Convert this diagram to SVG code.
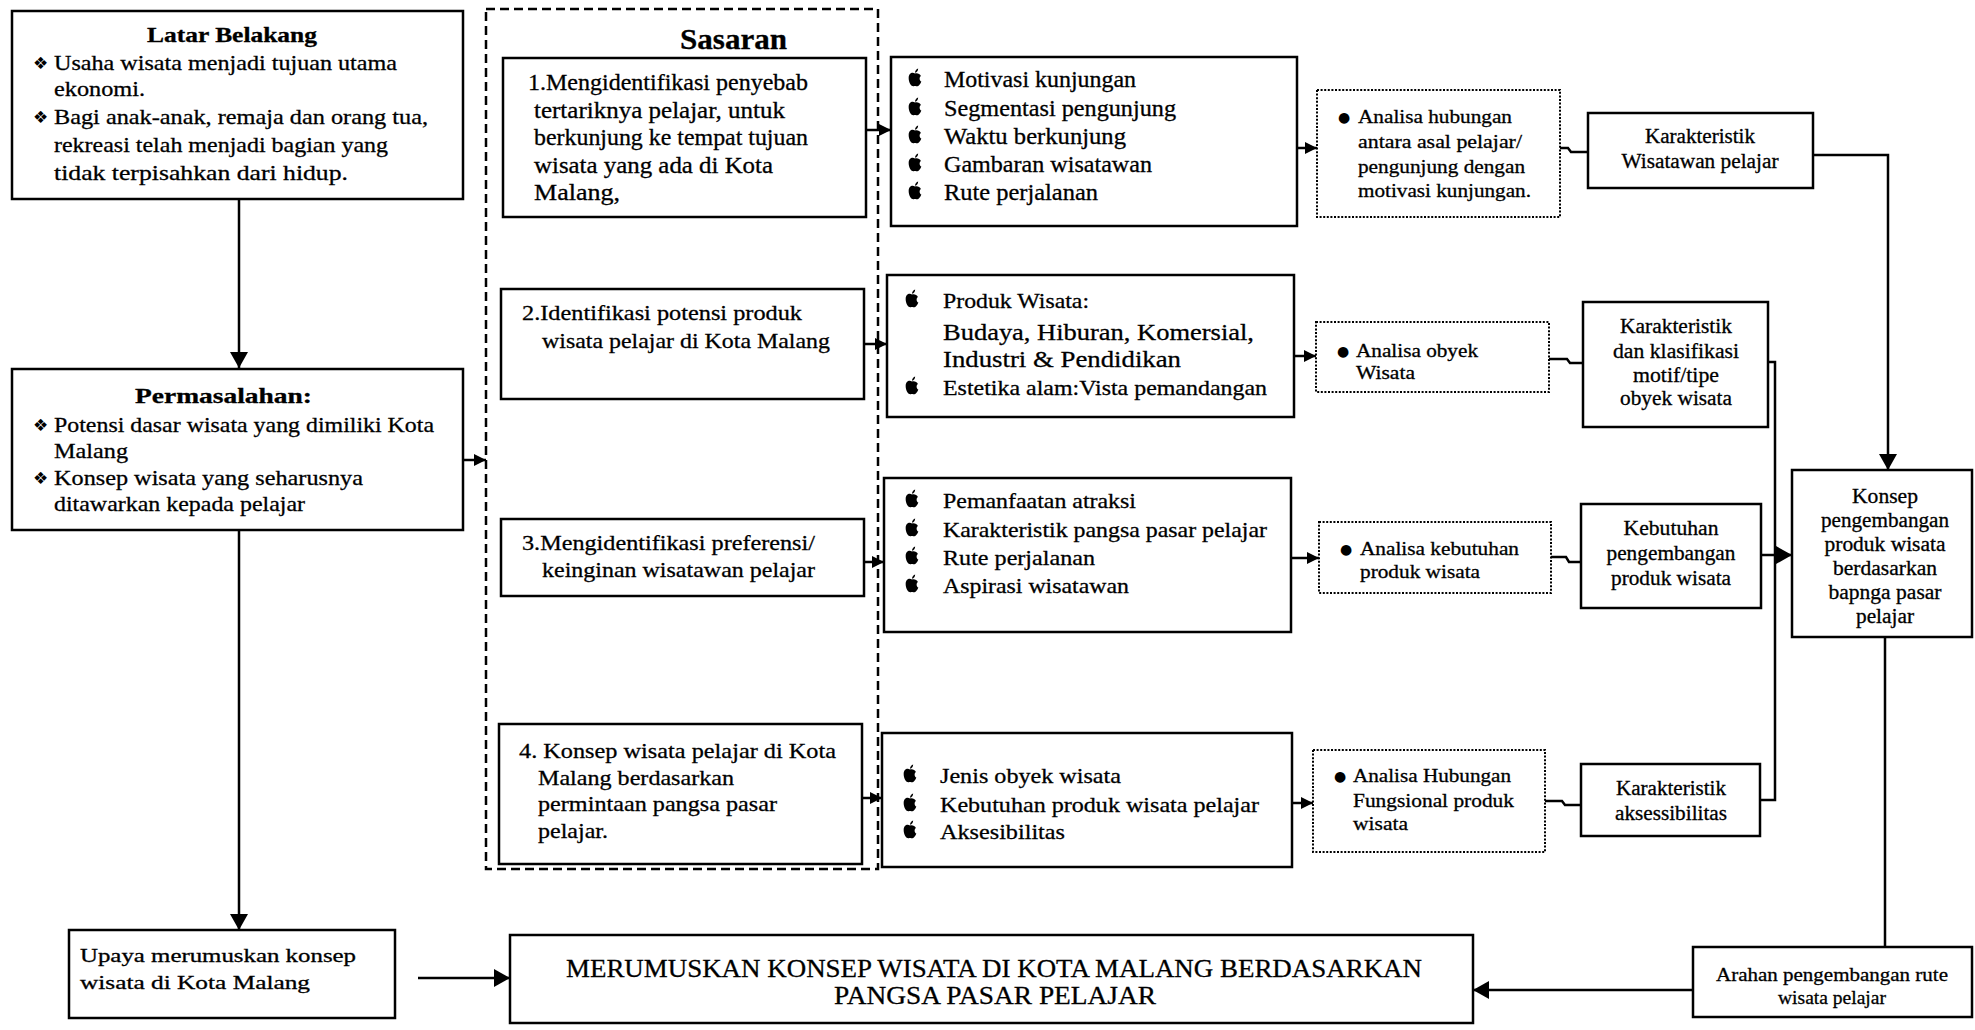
<svg xmlns="http://www.w3.org/2000/svg" xmlns:xlink="http://www.w3.org/1999/xlink" width="1975" height="1030" viewBox="0 0 1975 1030">
  <style>
    .box { fill: #fff; stroke: #000; stroke-width: 2.5; }
    .dot { fill: #fff; stroke: #000; stroke-width: 2; stroke-dasharray: 2 1.6; }
    .dash { fill: none; stroke: #000; stroke-width: 2.5; stroke-dasharray: 9 5; }
    .wire { fill: none; stroke: #000; stroke-width: 2.5; }
    .t { font-family: "Liberation Serif", "Times New Roman", serif; fill: #000; stroke: #000; stroke-width: 0.3; }
    .b { font-weight: bold; }
    .c { text-anchor: middle; }
    .sym { font-family: "DejaVu Sans", sans-serif; fill: #000; }
    .f18 { font-size: 18px; } .f19 { font-size: 19px; }
    .f20 { font-size: 20px; } .f21 { font-size: 21px; } .f22 { font-size: 22px; }
    .f23 { font-size: 23px; } .f24 { font-size: 24px; } .f26 { font-size: 26px; } .f30 { font-size: 30px; }
  </style>
  <defs>
    <marker id="ah" markerWidth="12" markerHeight="12" refX="12" refY="6" orient="auto" markerUnits="userSpaceOnUse">
      <path d="M0,0 L12,6 L0,12 Z" fill="#000"/>
    </marker>
    <marker id="ahL" markerWidth="18" markerHeight="18" refX="16" refY="9" orient="auto" markerUnits="userSpaceOnUse">
      <path d="M0,0 L16,9 L0,18 Z" fill="#000"/>
    </marker>
    <!-- apple-shaped list bullet -->
    <symbol id="apple" viewBox="0 0 20 24">
      <path d="M10,7 C7,5 2,6 2,13 C2,19 6,24 8.5,23 C9.5,22.6 10.5,22.6 11.5,23 C14,24 17,20 18,17 C15.5,16 15,11.5 17.5,10 C16,7.5 13,6 10,7 Z" fill="#000"/>
      <path d="M10,6 C10,3 12,1 14,0.5 C14,3 12.5,5.5 10,6 Z" fill="#000"/>
    </symbol>
  </defs>

  <rect width="1975" height="1030" fill="#fff"/>

  <!-- connectors -->
  <g id="connectors">
    <line class="wire" x1="239" y1="199" x2="239" y2="368" marker-end="url(#ahL)"/>
    <line class="wire" x1="463" y1="460" x2="486" y2="460" marker-end="url(#ah)"/>
    <line class="wire" x1="239" y1="530" x2="239" y2="930" marker-end="url(#ahL)"/>
    <line class="wire" x1="418" y1="978" x2="510" y2="978" marker-end="url(#ahL)"/>
    <line class="wire" x1="1693" y1="990" x2="1473" y2="990" marker-end="url(#ahL)"/>
    <line class="wire" x1="1885" y1="637" x2="1885" y2="947"/>

    <line class="wire" x1="866" y1="130" x2="891" y2="130" marker-end="url(#ah)"/>
    <line class="wire" x1="864" y1="344" x2="887" y2="344" marker-end="url(#ah)"/>
    <line class="wire" x1="864" y1="562" x2="884" y2="562" marker-end="url(#ah)"/>
    <line class="wire" x1="862" y1="798" x2="882" y2="798" marker-end="url(#ah)"/>

    <line class="wire" x1="1297" y1="148" x2="1317" y2="148" marker-end="url(#ah)"/>
    <line class="wire" x1="1294" y1="356" x2="1316" y2="356" marker-end="url(#ah)"/>
    <line class="wire" x1="1291" y1="558" x2="1319" y2="558" marker-end="url(#ah)"/>
    <line class="wire" x1="1292" y1="803" x2="1313" y2="803" marker-end="url(#ah)"/>

    <polyline class="wire" points="1560,148 1568,148 1571,152 1588,152"/>
    <polyline class="wire" points="1549,359 1567,359 1570,363 1583,363"/>
    <polyline class="wire" points="1551,557 1566,557 1569,562 1581,562"/>
    <polyline class="wire" points="1545,801 1562,801 1565,805 1581,805"/>

    <polyline class="wire" points="1813,155 1888,155 1888,470" marker-end="url(#ahL)"/>
    <polyline class="wire" points="1768,362 1775,362 1775,800 1760,800"/>
    <line class="wire" x1="1761" y1="555" x2="1792" y2="555" marker-end="url(#ahL)"/>
  </g>

  <!-- background and problem statement -->
  <g id="latar-belakang">
    <rect class="box" x="12" y="11" width="451" height="188"/>
    <text class="t b f21" x="147" y="42" textLength="170" lengthAdjust="spacingAndGlyphs">Latar Belakang</text>
    <text class="sym" x="33" y="69" font-size="17">❖</text>
    <text class="t f22" x="54" y="70" textLength="343" lengthAdjust="spacingAndGlyphs">Usaha wisata menjadi tujuan utama</text>
    <text class="t f22" x="54" y="96" textLength="91" lengthAdjust="spacingAndGlyphs">ekonomi.</text>
    <text class="sym" x="33" y="123" font-size="17">❖</text>
    <text class="t f22" x="54" y="124" textLength="374" lengthAdjust="spacingAndGlyphs">Bagi anak-anak, remaja dan orang tua,</text>
    <text class="t f22" x="54" y="152" textLength="334" lengthAdjust="spacingAndGlyphs">rekreasi telah menjadi bagian yang</text>
    <text class="t f22" x="54" y="180" textLength="294" lengthAdjust="spacingAndGlyphs">tidak terpisahkan dari hidup.</text>
  </g>

  <g id="permasalahan">
    <rect class="box" x="12" y="369" width="451" height="161"/>
    <text class="t b f21" x="135" y="403" textLength="177" lengthAdjust="spacingAndGlyphs">Permasalahan:</text>
    <text class="sym" x="33" y="431" font-size="17">❖</text>
    <text class="t f22" x="54" y="432" textLength="380" lengthAdjust="spacingAndGlyphs">Potensi dasar wisata yang dimiliki Kota</text>
    <text class="t f22" x="54" y="458" textLength="74" lengthAdjust="spacingAndGlyphs">Malang</text>
    <text class="sym" x="33" y="484" font-size="17">❖</text>
    <text class="t f22" x="54" y="485" textLength="309" lengthAdjust="spacingAndGlyphs">Konsep  wisata yang seharusnya</text>
    <text class="t f22" x="54" y="511" textLength="251" lengthAdjust="spacingAndGlyphs">ditawarkan kepada pelajar</text>
  </g>

  <g id="upaya">
    <rect class="box" x="69" y="930" width="326" height="88"/>
    <text class="t f19" x="80" y="962" textLength="276" lengthAdjust="spacingAndGlyphs">Upaya merumuskan konsep</text>
    <text class="t f19" x="80" y="989" textLength="230" lengthAdjust="spacingAndGlyphs">wisata di Kota Malang</text>
  </g>

  <!-- objectives column -->
  <g id="sasaran">
    <rect class="dash" x="486" y="9" width="392" height="860"/>
    <text class="t b f30" x="680" y="49" textLength="107" lengthAdjust="spacingAndGlyphs">Sasaran</text>
  </g>

  <g id="sasaran-1">
    <rect class="box" x="503" y="58" width="363" height="159"/>
    <text class="t f23" x="528" y="90" textLength="280" lengthAdjust="spacingAndGlyphs">1.Mengidentifikasi penyebab</text>
    <text class="t f23" x="534" y="117.5" textLength="251" lengthAdjust="spacingAndGlyphs">tertariknya pelajar, untuk</text>
    <text class="t f23" x="534" y="145" textLength="274" lengthAdjust="spacingAndGlyphs">berkunjung ke tempat tujuan</text>
    <text class="t f23" x="534" y="172.5" textLength="239" lengthAdjust="spacingAndGlyphs">wisata yang ada di Kota</text>
    <text class="t f23" x="534" y="200" textLength="86" lengthAdjust="spacingAndGlyphs">Malang,</text>
  </g>

  <g id="sasaran-2">
    <rect class="box" x="501" y="289" width="363" height="110"/>
    <text class="t f22" x="522" y="320" textLength="280" lengthAdjust="spacingAndGlyphs">2.Identifikasi potensi produk</text>
    <text class="t f22" x="542" y="348" textLength="288" lengthAdjust="spacingAndGlyphs">wisata pelajar di Kota Malang</text>
  </g>

  <g id="sasaran-3">
    <rect class="box" x="501" y="519" width="363" height="77"/>
    <text class="t f22" x="522" y="550" textLength="293" lengthAdjust="spacingAndGlyphs">3.Mengidentifikasi preferensi/</text>
    <text class="t f22" x="542" y="577" textLength="273" lengthAdjust="spacingAndGlyphs">keinginan wisatawan pelajar</text>
  </g>

  <g id="sasaran-4">
    <rect class="box" x="499" y="724" width="363" height="140"/>
    <text class="t f22" x="519" y="758" textLength="317" lengthAdjust="spacingAndGlyphs">4. Konsep wisata pelajar di Kota</text>
    <text class="t f22" x="538" y="785" textLength="196" lengthAdjust="spacingAndGlyphs">Malang berdasarkan</text>
    <text class="t f22" x="538" y="811" textLength="239" lengthAdjust="spacingAndGlyphs">permintaan pangsa pasar</text>
    <text class="t f22" x="538" y="838" textLength="70" lengthAdjust="spacingAndGlyphs">pelajar.</text>
  </g>

  <!-- aspect lists -->
  <g id="aspek-1">
    <rect class="box" x="891" y="57" width="406" height="169"/>
    <use href="#apple" x="907" y="68" width="16" height="19"/>
    <text class="t f23" x="944" y="87" textLength="192" lengthAdjust="spacingAndGlyphs">Motivasi  kunjungan</text>
    <use href="#apple" x="907" y="97" width="16" height="19"/>
    <text class="t f23" x="944" y="116" textLength="232" lengthAdjust="spacingAndGlyphs">Segmentasi pengunjung</text>
    <use href="#apple" x="907" y="125" width="16" height="19"/>
    <text class="t f23" x="944" y="144" textLength="182" lengthAdjust="spacingAndGlyphs">Waktu berkunjung</text>
    <use href="#apple" x="907" y="153" width="16" height="19"/>
    <text class="t f23" x="944" y="172" textLength="208" lengthAdjust="spacingAndGlyphs">Gambaran wisatawan</text>
    <use href="#apple" x="907" y="181" width="16" height="19"/>
    <text class="t f23" x="944" y="200" textLength="154" lengthAdjust="spacingAndGlyphs">Rute perjalanan</text>
  </g>

  <g id="aspek-2">
    <rect class="box" x="887" y="275" width="407" height="142"/>
    <use href="#apple" x="904" y="289" width="16" height="19"/>
    <text class="t f22" x="943" y="308" textLength="146" lengthAdjust="spacingAndGlyphs">Produk Wisata:</text>
    <text class="t f24" x="943" y="340" textLength="311" lengthAdjust="spacingAndGlyphs">Budaya, Hiburan, Komersial,</text>
    <text class="t f24" x="943" y="367" textLength="238" lengthAdjust="spacingAndGlyphs">Industri &amp; Pendidikan</text>
    <use href="#apple" x="904" y="376" width="16" height="19"/>
    <text class="t f22" x="943" y="395" textLength="324" lengthAdjust="spacingAndGlyphs">Estetika alam:Vista pemandangan</text>
  </g>

  <g id="aspek-3">
    <rect class="box" x="884" y="478" width="407" height="154"/>
    <use href="#apple" x="904" y="489" width="16" height="19"/>
    <text class="t f22" x="943" y="508" textLength="193" lengthAdjust="spacingAndGlyphs">Pemanfaatan atraksi</text>
    <use href="#apple" x="904" y="518" width="16" height="19"/>
    <text class="t f22" x="943" y="537" textLength="324" lengthAdjust="spacingAndGlyphs">Karakteristik pangsa pasar pelajar</text>
    <use href="#apple" x="904" y="546" width="16" height="19"/>
    <text class="t f22" x="943" y="565" textLength="152" lengthAdjust="spacingAndGlyphs">Rute perjalanan</text>
    <use href="#apple" x="904" y="574" width="16" height="19"/>
    <text class="t f22" x="943" y="593" textLength="186" lengthAdjust="spacingAndGlyphs">Aspirasi wisatawan</text>
  </g>

  <g id="aspek-4">
    <rect class="box" x="882" y="733" width="410" height="134"/>
    <use href="#apple" x="902" y="764" width="16" height="19"/>
    <text class="t f22" x="940" y="783" textLength="181" lengthAdjust="spacingAndGlyphs">Jenis obyek wisata</text>
    <use href="#apple" x="902" y="793" width="16" height="19"/>
    <text class="t f22" x="940" y="812" textLength="319" lengthAdjust="spacingAndGlyphs">Kebutuhan produk wisata pelajar</text>
    <use href="#apple" x="902" y="820" width="16" height="19"/>
    <text class="t f22" x="940" y="839" textLength="125" lengthAdjust="spacingAndGlyphs">Aksesibilitas</text>
  </g>

  <!-- analyses -->
  <g id="analisa-1">
    <rect class="dot" x="1317" y="90" width="243" height="127"/>
    <text class="sym" x="1338" y="122" font-size="14">●</text>
    <text class="t f19" x="1358" y="123" textLength="154" lengthAdjust="spacingAndGlyphs">Analisa hubungan</text>
    <text class="t f19" x="1358" y="148" textLength="164" lengthAdjust="spacingAndGlyphs">antara  asal pelajar/</text>
    <text class="t f19" x="1358" y="173" textLength="167" lengthAdjust="spacingAndGlyphs">pengunjung dengan</text>
    <text class="t f19" x="1358" y="197" textLength="173" lengthAdjust="spacingAndGlyphs">motivasi kunjungan.</text>
  </g>

  <g id="analisa-2">
    <rect class="dot" x="1316" y="322" width="233" height="70"/>
    <text class="sym" x="1337" y="356" font-size="14">●</text>
    <text class="t f19" x="1356" y="357" textLength="122" lengthAdjust="spacingAndGlyphs">Analisa obyek</text>
    <text class="t f19" x="1356" y="379" textLength="59" lengthAdjust="spacingAndGlyphs">Wisata</text>
  </g>

  <g id="analisa-3">
    <rect class="dot" x="1319" y="522" width="232" height="71"/>
    <text class="sym" x="1340" y="554" font-size="14">●</text>
    <text class="t f19" x="1360" y="555" textLength="159" lengthAdjust="spacingAndGlyphs">Analisa kebutuhan</text>
    <text class="t f19" x="1360" y="578" textLength="120" lengthAdjust="spacingAndGlyphs">produk wisata</text>
  </g>

  <g id="analisa-4">
    <rect class="dot" x="1313" y="750" width="232" height="102"/>
    <text class="sym" x="1334" y="781" font-size="14">●</text>
    <text class="t f19" x="1353" y="782" textLength="158" lengthAdjust="spacingAndGlyphs">Analisa Hubungan</text>
    <text class="t f19" x="1353" y="807" textLength="161" lengthAdjust="spacingAndGlyphs">Fungsional produk</text>
    <text class="t f19" x="1353" y="830" textLength="55" lengthAdjust="spacingAndGlyphs">wisata</text>
  </g>

  <!-- outcomes -->
  <g id="karakteristik-wisatawan">
    <rect class="box" x="1588" y="113" width="225" height="75"/>
    <text class="t c f20" x="1700" y="143" textLength="110" lengthAdjust="spacingAndGlyphs">Karakteristik</text>
    <text class="t c f20" x="1700" y="168" textLength="157" lengthAdjust="spacingAndGlyphs">Wisatawan pelajar</text>
  </g>

  <g id="karakteristik-obyek">
    <rect class="box" x="1583" y="302" width="185" height="125"/>
    <text class="t c f20" x="1676" y="333" textLength="112" lengthAdjust="spacingAndGlyphs">Karakteristik</text>
    <text class="t c f20" x="1676" y="358" textLength="126" lengthAdjust="spacingAndGlyphs">dan klasifikasi</text>
    <text class="t c f20" x="1676" y="382" textLength="86" lengthAdjust="spacingAndGlyphs">motif/tipe</text>
    <text class="t c f20" x="1676" y="405" textLength="112" lengthAdjust="spacingAndGlyphs">obyek wisata</text>
  </g>

  <g id="kebutuhan-pengembangan">
    <rect class="box" x="1581" y="504" width="180" height="104"/>
    <text class="t c f20" x="1671" y="535" textLength="95" lengthAdjust="spacingAndGlyphs">Kebutuhan</text>
    <text class="t c f20" x="1671" y="560" textLength="129" lengthAdjust="spacingAndGlyphs">pengembangan</text>
    <text class="t c f20" x="1671" y="585" textLength="120" lengthAdjust="spacingAndGlyphs">produk wisata</text>
  </g>

  <g id="karakteristik-aksesibilitas">
    <rect class="box" x="1581" y="764" width="179" height="72"/>
    <text class="t c f20" x="1671" y="795" textLength="110" lengthAdjust="spacingAndGlyphs">Karakteristik</text>
    <text class="t c f20" x="1671" y="820" textLength="112" lengthAdjust="spacingAndGlyphs">aksessibilitas</text>
  </g>

  <g id="konsep-pengembangan">
    <rect class="box" x="1792" y="470" width="180" height="167"/>
    <text class="t c f20" x="1885" y="503" textLength="66" lengthAdjust="spacingAndGlyphs">Konsep</text>
    <text class="t c f20" x="1885" y="527" textLength="128" lengthAdjust="spacingAndGlyphs">pengembangan</text>
    <text class="t c f20" x="1885" y="551" textLength="121" lengthAdjust="spacingAndGlyphs">produk wisata</text>
    <text class="t c f20" x="1885" y="575" textLength="104" lengthAdjust="spacingAndGlyphs">berdasarkan</text>
    <text class="t c f20" x="1885" y="599" textLength="113" lengthAdjust="spacingAndGlyphs">bapnga pasar</text>
    <text class="t c f20" x="1885" y="623" textLength="58" lengthAdjust="spacingAndGlyphs">pelajar</text>
  </g>

  <g id="arahan">
    <rect class="box" x="1693" y="947" width="279" height="70"/>
    <text class="t c f19" x="1832" y="981" textLength="232" lengthAdjust="spacingAndGlyphs">Arahan pengembangan rute</text>
    <text class="t c f19" x="1832" y="1004" textLength="108" lengthAdjust="spacingAndGlyphs">wisata pelajar</text>
  </g>

  <g id="merumuskan">
    <rect class="box" x="510" y="935" width="963" height="88"/>
    <text class="t f26" x="566" y="977" textLength="856" lengthAdjust="spacingAndGlyphs">MERUMUSKAN KONSEP WISATA DI KOTA MALANG BERDASARKAN</text>
    <text class="t f26" x="834" y="1004" textLength="322" lengthAdjust="spacingAndGlyphs">PANGSA PASAR PELAJAR</text>
  </g>
</svg>
